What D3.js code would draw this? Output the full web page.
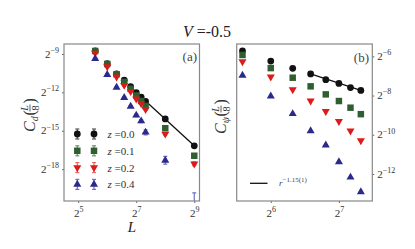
<!DOCTYPE html>
<html><head><meta charset="utf-8">
<script src="https://cdn.jsdelivr.net/npm/d3@7"></script>
<style>
html,body{margin:0;padding:0;background:#fff;}
svg{display:block;}
text{font-family:"Liberation Serif","DejaVu Serif",serif;}
</style>
</head><body>
<script>
// ---------- data (values are log2 of the plotted quantity) ----------
const sizesA = [48, 64, 80, 96, 112, 128, 144, 160, 256, 512];
const cdZ00 = [-8.76, -9.76, -10.56, -11.05, -11.56, -12.03, -12.37, -12.71, -14.08, -16.18];
const cdZ01 = [-8.77, -9.78, -10.59, -11.18, -11.72, -12.24, -12.68, -13.07, -14.80, -16.96];
const cdZ02 = [-8.92, -9.99, -10.79, -11.44, -11.93, -12.50, -12.88, -13.33, -15.25, -17.58];
const cdZ04 = [-9.37, -10.61, -11.62, -12.42, -13.09, -13.79, -14.24, -15.12, -17.31, -21.0];
const cdErrZ00 = [0.05, 0.05, 0.05, 0.05, 0.05, 0.05, 0.05, 0.05, 0.06, 0.1];
const cdErrZ01 = [0.05, 0.05, 0.05, 0.05, 0.05, 0.05, 0.06, 0.06, 0.1, 0.15];
const cdErrZ02 = [0.05, 0.05, 0.05, 0.05, 0.05, 0.06, 0.06, 0.08, 0.1, 0.15];
const cdErrZ04 = [0.05, 0.05, 0.05, 0.06, 0.08, 0.1, 0.12, 0.2, 0.3, 1.15];
const fitA_L = [144, 512];
const fitA_val = [-12.37, -16.18];

const sizesB = [48, 64, 80, 96, 112, 128, 144, 160];
const cpZ00 = [-5.72, -6.24, -6.61, -6.90, -7.19, -7.38, -7.59, -7.74];
const cpZ01 = [-5.93, -6.60, -7.09, -7.53, -7.94, -8.28, -8.62, -8.95];
const cpZ02 = [-6.27, -7.05, -7.70, -8.27, -8.81, -9.32, -9.80, -10.30];
const cpZ04 = [-6.97, -8.03, -8.93, -9.80, -10.53, -11.39, -12.17, -12.92];
const fitB_L = [96, 160];
const fitB_val = [-6.90, -7.74];

const seriesNames = ["z =0.0", "z =0.1", "z =0.2", "z =0.4"];
const xTicksA = [5, 7, 9];
const yTicksA = [-9, -12, -15, -18];
const xTicksB = [6, 7];
const yTicksB = [-6, -8, -10, -12];
const titleText = "-0.5";
const fitLabelExp = "\u22121.15(1)";

// ---------- styles ----------
const colors = ["#111111", "#2f5f31", "#dd1a1a", "#2b2a8c"];
const errColors = ["#555555", "#6a946a", "#e86a6a", "#7070c0"];
const shapes = ["circle", "square", "down", "up"];

const W = 415, H = 249;
const svg = d3.select("body").append("svg").attr("width", W).attr("height", H);

function marker(g, shape, x, y, color) {
  let sym, rot = 0, size;
  if (shape === "circle") { sym = d3.symbolCircle; size = 36; }
  else if (shape === "square") { sym = d3.symbolSquare; size = 42; }
  else { sym = d3.symbolTriangle; size = 28; if (shape === "down") rot = 180; }
  g.append("path").attr("d", d3.symbol().type(sym).size(size)())
    .attr("transform", `translate(${x},${y}) rotate(${rot})`)
    .attr("fill", color);
}

function powLabel(sel, exp, baseSize, supSize) {
  sel.text(null);
  sel.append("tspan").text("2").attr("font-size", baseSize);
  sel.append("tspan").text(String(exp).replace("-", "\u2212"))
    .attr("font-size", supSize).attr("dy", -baseSize * 0.45);
}

// ---------- panel A ----------
const A = {x0: 64, x1: 199.5, y0: 44, y1: 201};
const xA = d3.scaleLog().base(2).domain([Math.pow(2, 4.51), Math.pow(2, 9.18)]).range([A.x0, A.x1]);
const yA = d3.scaleLog().base(2).domain([Math.pow(2, -8.22), Math.pow(2, -20.49)]).range([A.y0, A.y1]);

svg.append("clipPath").attr("id", "clipA").append("rect")
  .attr("x", A.x0).attr("y", A.y0).attr("width", A.x1 - A.x0).attr("height", A.y1 - A.y0);

const gA = svg.append("g");
// axes
const axA_x = gA.append("g").attr("transform", `translate(0,${A.y1})`)
  .call(d3.axisBottom(xA).tickValues(xTicksA.map(e => Math.pow(2, e))).tickSize(2).tickPadding(4));
const axA_y = gA.append("g").attr("transform", `translate(${A.x0},0)`)
  .call(d3.axisLeft(yA).tickValues(yTicksA.map(e => Math.pow(2, e))).tickSize(2).tickPadding(3));
[axA_x, axA_y].forEach(ax => {
  ax.select(".domain").remove();
  ax.selectAll("line").attr("stroke", "#666");
  ax.selectAll("text").attr("fill", "#333");
});
axA_x.selectAll("text").each(function(d) { powLabel(d3.select(this), Math.round(Math.log2(d)), 11, 8); })
  .attr("dy", "0.95em");
axA_y.selectAll("text").each(function(d) { powLabel(d3.select(this), Math.round(Math.log2(d)), 11, 8); })
  .attr("dy", "0.32em");

const plotA = gA.append("g").attr("clip-path", "url(#clipA)");
// fit line
plotA.append("path")
  .attr("d", d3.line().x(d => xA(d[0])).y(d => yA(Math.pow(2, d[1])))(fitA_L.map((l, i) => [l, fitA_val[i]])))
  .attr("stroke", "#111").attr("stroke-width", 1.3).attr("fill", "none");

const seriesA = [cdZ00, cdZ01, cdZ02, cdZ04];
const errA = [cdErrZ00, cdErrZ01, cdErrZ02, cdErrZ04];
seriesA.forEach((vals, si) => {
  const g = plotA.append("g");
  vals.forEach((v, i) => {
    const x = xA(sizesA[i]);
    const yT = yA(Math.pow(2, v + errA[si][i])), yB = yA(Math.pow(2, v - errA[si][i]));
    g.append("line").attr("x1", x).attr("x2", x).attr("y1", yT).attr("y2", yB)
      .attr("stroke", errColors[si]).attr("stroke-width", 1.2);
    [yT, yB].forEach(yy => g.append("line").attr("x1", x - 2).attr("x2", x + 2).attr("y1", yy).attr("y2", yy)
      .attr("stroke", errColors[si]).attr("stroke-width", 1.2));
    marker(g, shapes[si], x, yA(Math.pow(2, v)), colors[si]);
  });
});

// legend A
const legA = gA.append("g");
seriesNames.forEach((name, si) => {
  const ly = 134 + si * 16.8;
  [77.3, 94].forEach(lx => {
    legA.append("line").attr("x1", lx).attr("x2", lx).attr("y1", ly - 5).attr("y2", ly + 5)
      .attr("stroke", errColors[si]).attr("stroke-width", 1.2);
    [ly - 5, ly + 5].forEach(yy => legA.append("line").attr("x1", lx - 2).attr("x2", lx + 2).attr("y1", yy).attr("y2", yy)
      .attr("stroke", errColors[si]).attr("stroke-width", 1.2));
    marker(legA, shapes[si], lx, ly, colors[si]);
  });
  const t = legA.append("text").attr("x", 107.5).attr("y", ly + 4).attr("font-size", 11).attr("fill", "#333");
  t.append("tspan").text(name.slice(0, 1)).attr("font-style", "italic");
  t.append("tspan").text(name.slice(1));
});

gA.append("rect").attr("x", A.x0).attr("y", A.y0).attr("width", A.x1 - A.x0).attr("height", A.y1 - A.y0)
  .attr("fill", "none").attr("stroke", "#888").attr("stroke-width", 1.2);
gA.append("text").attr("x", 197).attr("y", 61).attr("text-anchor", "end").attr("font-size", 13)
  .attr("fill", "#444").text("(a)");
// x label
gA.append("text").attr("x", 132).attr("y", 232).attr("text-anchor", "middle").attr("font-size", 15)
  .attr("font-style", "italic").attr("fill", "#222").text("L");

function yLabel(cx, cy, sub) {
  const g = svg.append("g").attr("transform", `translate(${cx},${cy}) rotate(-90)`).attr("fill", "#333");
  const t = g.append("text").attr("x", -16).attr("y", 0).attr("font-size", 16);
  t.append("tspan").text("C").attr("font-style", "italic");
  t.append("tspan").text(sub).attr("font-style", "italic").attr("font-size", 10).attr("dy", 3);
  const wC = sub === "d" ? 16.5 : 17.5;
  g.append("text").attr("x", -16 + wC).attr("y", 0).attr("font-size", 16).text("(");
  const fx = -16 + wC + 7.5;
  g.append("text").attr("x", fx).attr("y", -7).attr("font-size", 10).attr("font-style", "italic")
    .attr("text-anchor", "middle").text("L");
  g.append("line").attr("x1", fx - 3.5).attr("x2", fx + 3.5).attr("y1", -5).attr("y2", -5)
    .attr("stroke", "#333").attr("stroke-width", 0.8);
  g.append("text").attr("x", fx).attr("y", 3.5).attr("font-size", 10).attr("text-anchor", "middle").text("8");
  g.append("text").attr("x", fx + 4.5).attr("y", 0).attr("font-size", 16).text(")");
}
yLabel(35, 116, "d");

// ---------- panel B ----------
const B = {x0: 236.7, x1: 372.3, y0: 44, y1: 201};
const xB = d3.scaleLog().base(2).domain([Math.pow(2, 5.50), Math.pow(2, 7.49)]).range([B.x0, B.x1]);
const yB = d3.scaleLog().base(2).domain([Math.pow(2, -5.37), Math.pow(2, -13.38)]).range([B.y0, B.y1]);
const gB = svg.append("g");
const axB_x = gB.append("g").attr("transform", `translate(0,${B.y1})`)
  .call(d3.axisBottom(xB).tickValues(xTicksB.map(e => Math.pow(2, e))).tickSize(2).tickPadding(4));
const axB_y = gB.append("g").attr("transform", `translate(${B.x1},0)`)
  .call(d3.axisRight(yB).tickValues(yTicksB.map(e => Math.pow(2, e))).tickSize(2).tickPadding(3));
[axB_x, axB_y].forEach(ax => {
  ax.select(".domain").remove();
  ax.selectAll("line").attr("stroke", "#666");
  ax.selectAll("text").attr("fill", "#333");
});
axB_x.selectAll("text").each(function(d) { powLabel(d3.select(this), Math.round(Math.log2(d)), 11, 8); })
  .attr("dy", "0.95em");
axB_y.selectAll("text").each(function(d) { powLabel(d3.select(this), Math.round(Math.log2(d)), 11, 8); })
  .attr("dy", "0.32em");

gB.append("path")
  .attr("d", d3.line().x(d => xB(d[0])).y(d => yB(Math.pow(2, d[1])))(fitB_L.map((l, i) => [l, fitB_val[i]])))
  .attr("stroke", "#111").attr("stroke-width", 1.3).attr("fill", "none");
[cpZ00, cpZ01, cpZ02, cpZ04].forEach((vals, si) => {
  const g = gB.append("g");
  vals.forEach((v, i) => marker(g, shapes[si], xB(sizesB[i]), yB(Math.pow(2, v)), colors[si]));
});
gB.append("rect").attr("x", B.x0).attr("y", B.y0).attr("width", B.x1 - B.x0).attr("height", B.y1 - B.y0)
  .attr("fill", "none").attr("stroke", "#888").attr("stroke-width", 1.2);
gB.append("text").attr("x", 369).attr("y", 62).attr("text-anchor", "end").attr("font-size", 13)
  .attr("fill", "#444").text("(b)");
// legend B
gB.append("line").attr("x1", 250).attr("x2", 267.5).attr("y1", 183.3).attr("y2", 183.3)
  .attr("stroke", "#111").attr("stroke-width", 1.3);
const tB = gB.append("text").attr("x", 279).attr("y", 186).attr("font-size", 9).attr("fill", "#444");
tB.append("tspan").text("r").attr("font-style", "italic");
tB.append("tspan").text(fitLabelExp).attr("font-size", 7).attr("dy", -4);
yLabel(226, 118, "\u03c8");

// ---------- title ----------
const title = svg.append("text").attr("x", 207).attr("y", 37).attr("text-anchor", "middle")
  .attr("font-size", 16).attr("fill", "#222");
title.append("tspan").text("V").attr("font-style", "italic");
title.append("tspan").text(" =" + titleText);
</script>
</body></html>
